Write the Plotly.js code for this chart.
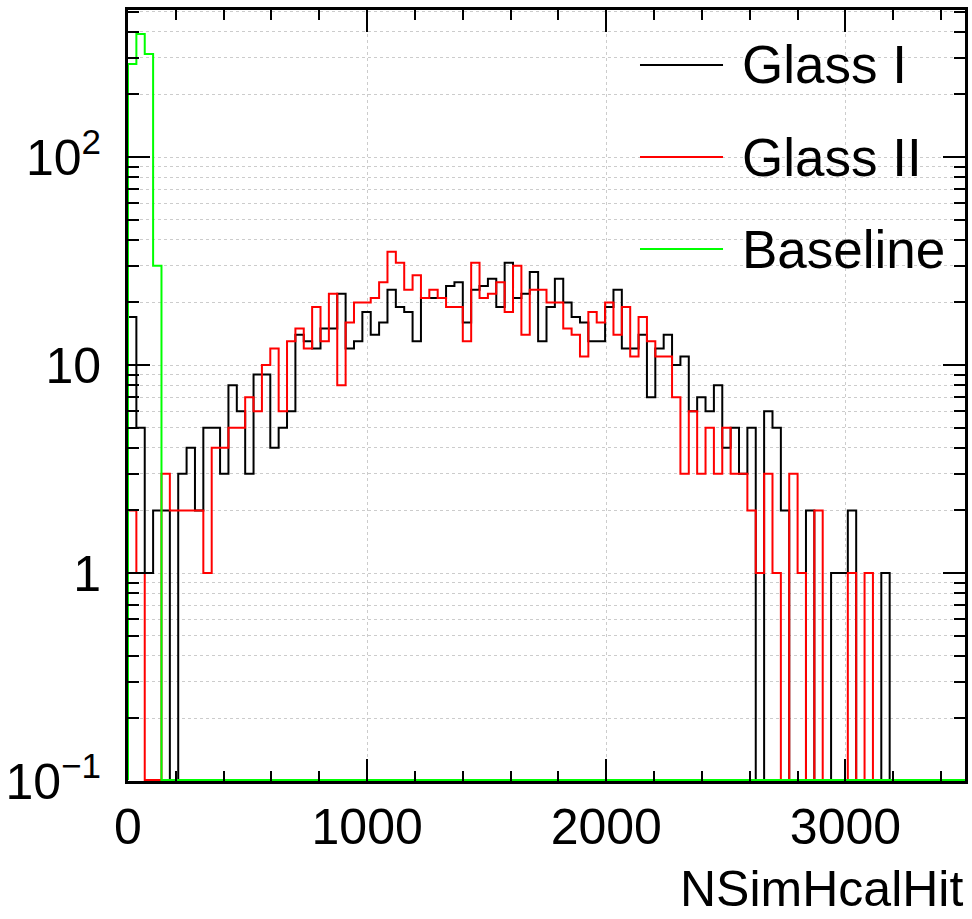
<!DOCTYPE html>
<html><head><meta charset="utf-8">
<script src="https://cdn.plot.ly/plotly-3.0.1.min.js"></script>
<style>html,body{margin:0;padding:0;background:#fff;} #chart{width:972px;height:919px;}</style>
</head><body><div id="chart"></div>
<script>
// Histogram binning: 100 bins from 0 to 3500
const binLow = 0;
const binHigh = 3500;
const nBins = 100;

// Bin contents
const glassI = [17,5,1,2,2,0,3,4,2,5, 5,3,8,6,3,9,9,4,5,6,
  14,13,12,15,15,22,12,13,18,14, 16,23,19,18,13,21,21,21,24,25,
  16,23,24,26,19,31,21,22,28,13, 19,26,20,17,16,13,13,19,23,12,
  12,14,7,12,14,10,11,6,7,6, 8,4,5,3,5,0,6,5,2,0,
  0,2,0,0,1,1,2,0,0,0, 1,0,0,0,0,0,0,0,0,0];
const glassII = [2,1,0,0,3,2,2,2,2,1, 4,4,5,5,7,6,10,12,6,13,
  15,12,19,13,22,8,16,20,20,21, 25,35,31,23,27,21,23,21,19,19,
  13,31,21,22,25,18,30,14,23,23, 20,20,15,14,11,18,16,20,14,19,
  11,17,13,11,11,7,3,6,3,5, 3,5,3,3,2,1,3,1,0,3,
  1,0,2,0,0,0,1,0,1,0, 0,0,0,0,0,0,0,0,0,0];
const baseline = [280,390,313,30,0,0,0,0,0,0, 0,0,0,0,0,0,0,0,0,0,
  0,0,0,0,0,0,0,0,0,0, 0,0,0,0,0,0,0,0,0,0,
  0,0,0,0,0,0,0,0,0,0, 0,0,0,0,0,0,0,0,0,0,
  0,0,0,0,0,0,0,0,0,0, 0,0,0,0,0,0,0,0,0,0,
  0,0,0,0,0,0,0,0,0,0, 0,0,0,0,0,0,0,0,0,0];

const seriesNames = ['Glass I', 'Glass II', 'Baseline'];
const seriesColors = ['#000000', '#ff0000', '#00ff00'];
const xTickVals = [0, 1000, 2000, 3000];
const xTickText = ['0', '1000', '2000', '3000'];
const yTickVals = [0.1, 1, 10, 100];
const yTickText = ['10<sup>\u22121</sup>', '1', '10', '10<sup>2</sup>'];
const xTitle = 'NSimHcalHit';

// Empty bins are drawn at the bottom of the log axis, as ROOT does
const FLOOR = 0.101;
const FONT = 'Liberation Sans, Arial, Helvetica, sans-serif';

function stepTrace(counts, name, color) {
  const w = (binHigh - binLow) / nBins;
  const x = [binLow], y = [FLOOR];
  counts.forEach((c, i) => { x.push(binLow + i * w); y.push(c > 0 ? c : FLOOR); });
  x.push(binHigh); y.push(counts[counts.length - 1] > 0 ? counts[counts.length - 1] : FLOOR);
  return { type: 'scatter', mode: 'lines', x: x, y: y, name: name,
    line: { shape: 'hv', color: color, width: 2 }, showlegend: false, hoverinfo: 'skip' };
}

const data = [
  stepTrace(glassI, seriesNames[0], seriesColors[0]),
  stepTrace(glassII, seriesNames[1], seriesColors[1]),
  stepTrace(baseline, seriesNames[2], seriesColors[2])
];

const yMinor = [];
[0.1, 1, 10, 100].forEach(d => { for (let m = 2; m <= 9; m++) { const v = d * m; if (v < 505) yMinor.push(v); } });

// Legend drawn as line samples + text
const legY = [0.9287, 0.8093, 0.690];
const shapes = [], annotations = [];
seriesNames.forEach((n, i) => {
  shapes.push({ type: 'line', xref: 'paper', yref: 'paper', x0: 0.6117, x1: 0.7109, y0: legY[i], y1: legY[i],
    line: { color: seriesColors[i], width: 2 } });
  annotations.push({ xref: 'paper', yref: 'paper', x: 0.7310, y: legY[i], xanchor: 'left', yanchor: 'middle',
    text: n, showarrow: false, font: { family: FONT, size: 53, color: '#000' } });
});
annotations.push({ xref: 'paper', yref: 'paper', x: 1.0, y: -0.140, xanchor: 'right', yanchor: 'middle',
  text: xTitle, showarrow: false, font: { family: FONT, size: 50, color: '#000' } });

const layout = {
  width: 972, height: 919,
  margin: { l: 128, r: 7, t: 10, b: 138 },
  paper_bgcolor: '#fff', plot_bgcolor: '#fff',
  font: { family: FONT, size: 50, color: '#000' },
  showlegend: false,
  xaxis: {
    range: [binLow, binHigh], tickmode: 'array', tickvals: xTickVals, ticktext: xTickText,
    ticks: 'inside', ticklen: 22, tickwidth: 2, tickcolor: '#000',
    showline: true, linewidth: 3, linecolor: '#000', mirror: 'allticks',
    showgrid: true, gridcolor: '#cccccc', griddash: 'dot', gridwidth: 1, zeroline: false,
    tickfont: { family: FONT, size: 50, color: '#000' },
    minor: { dtick: 200, tick0: 0, ticks: 'inside', ticklen: 10, tickwidth: 2, tickcolor: '#000', showgrid: false }
  },
  yaxis: {
    type: 'log', range: [-1, 2.707], tickmode: 'array', tickvals: yTickVals, ticktext: yTickText,
    ticks: 'inside', ticklen: 22, tickwidth: 2, tickcolor: '#000', ticklabelstandoff: 14,
    showline: true, linewidth: 3, linecolor: '#000', mirror: 'allticks',
    showgrid: true, gridcolor: '#cccccc', griddash: 'dot', gridwidth: 1, zeroline: false,
    tickfont: { family: FONT, size: 50, color: '#000' },
    minor: { tickmode: 'array', tickvals: yMinor, ticks: 'inside', ticklen: 11, tickwidth: 2, tickcolor: '#000',
      showgrid: true, gridcolor: '#cccccc', griddash: 'dot', gridwidth: 1 }
  },
  shapes: shapes,
  annotations: annotations
};

Plotly.newPlot('chart', data, layout, { staticPlot: true, displayModeBar: false });
</script>
</body></html>
